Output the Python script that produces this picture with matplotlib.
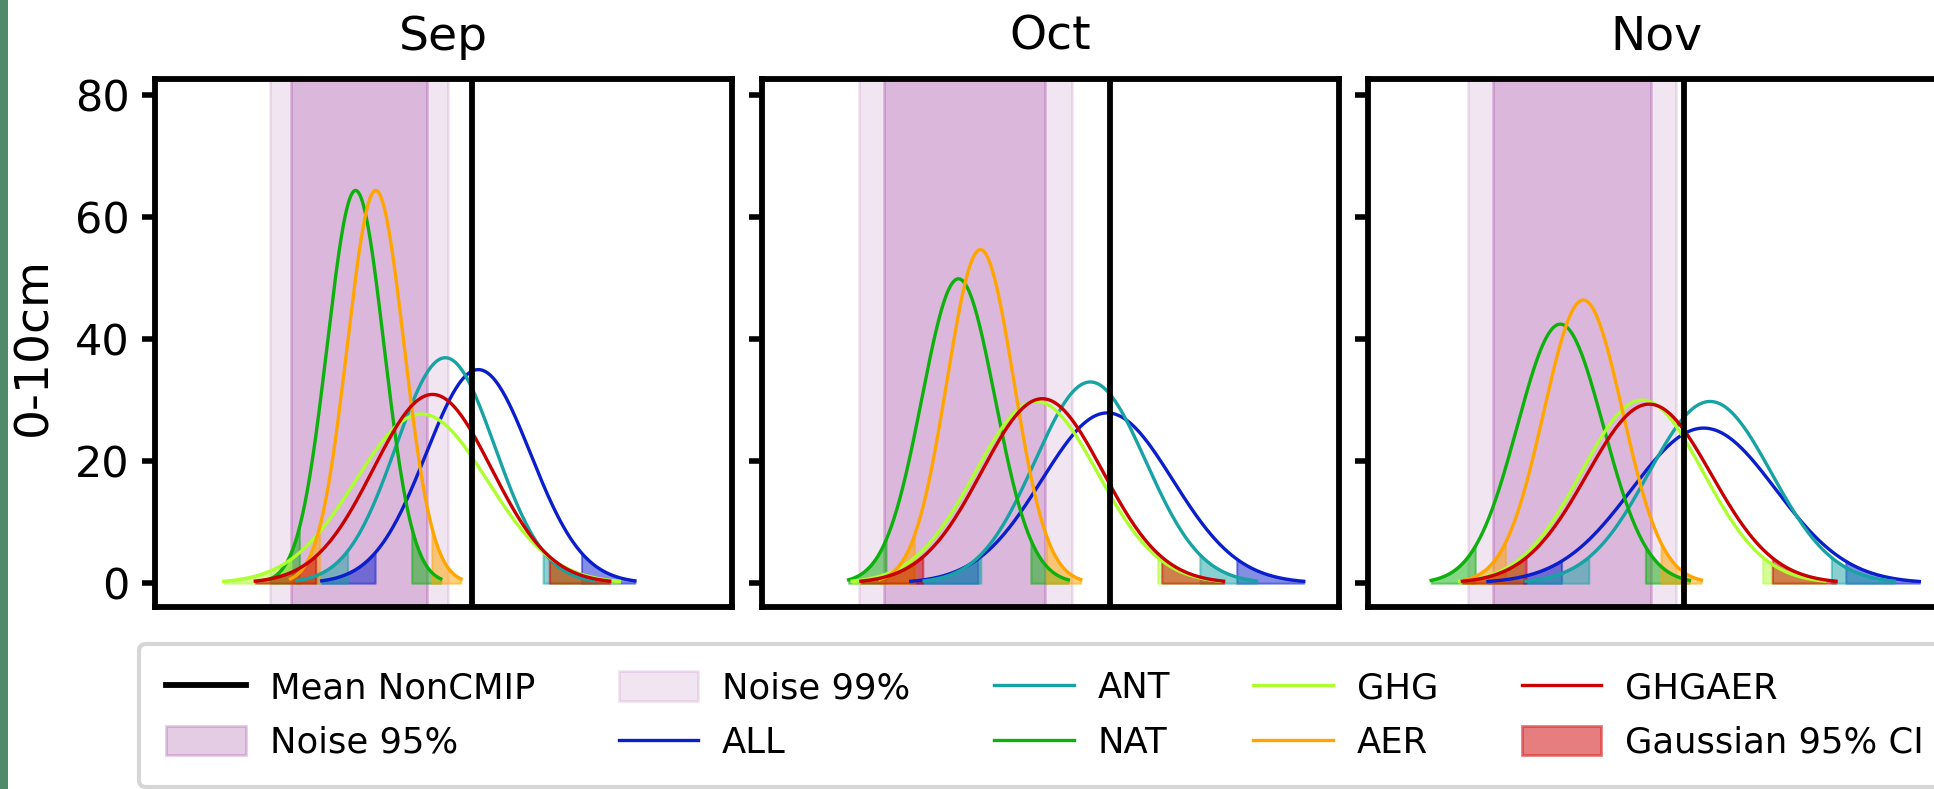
import numpy as np
import matplotlib
matplotlib.use('Agg')
import matplotlib.pyplot as plt
from matplotlib.lines import Line2D
from matplotlib.patches import Patch, Rectangle

# %%
months = ['Sep', 'Oct', 'Nov']

mean_noncmip = [-0.0007, 0.0059, -0.0010]
noise95_lo = [-0.0404, -0.0434, -0.0428]
noise95_hi = [-0.0107, -0.0081, -0.0082]
noise99_lo = [-0.0449, -0.0489, -0.0482]
noise99_hi = [-0.0061, -0.0022, -0.0028]

# gaussian fits (mean, std) per experiment and month
ALL_mu = [0.0006, 0.0054, 0.0033]
ALL_sd = [0.0114, 0.0143, 0.0157]
ANT_mu = [-0.0066, 0.0017, 0.0047]
ANT_sd = [0.0108, 0.0121, 0.0134]
NAT_mu = [-0.0262, -0.0271, -0.0280]
NAT_sd = [0.0062, 0.0080, 0.0094]
GHG_mu = [-0.0118, -0.0101, -0.0101]
GHG_sd = [0.0144, 0.0134, 0.0133]
AER_mu = [-0.0218, -0.0223, -0.0230]
AER_sd = [0.0062, 0.0073, 0.0086]
GHGAER_mu = [-0.0094, -0.0088, -0.0086]
GHGAER_sd = [0.0129, 0.0132, 0.0136]

experiments = ['ALL', 'ANT', 'NAT', 'GHG', 'AER', 'GHGAER']
exp_mu = [ALL_mu, ANT_mu, NAT_mu, GHG_mu, AER_mu, GHGAER_mu]
exp_sd = [ALL_sd, ANT_sd, NAT_sd, GHG_sd, AER_sd, GHGAER_sd]
colors = ['#0a1ecc', '#17a3a3', '#0db00d', '#adff2f', '#ffa500', '#c80000']

yticks = [0, 20, 40, 60, 80]

# %%
plt.rcParams['font.family'] = 'DejaVu Sans'

W, H = 1934, 789
fig = plt.figure(figsize=(W / 100, H / 100), dpi=100)
fig.patches.append(Rectangle((0, 0), 8 / W, 1, transform=fig.transFigure,
                             facecolor='#4f8b69', edgecolor='none'))

lefts = [155, 762, 1368]
ax_w = 577
ax_top, ax_bot = 79, 607

for i, m in enumerate(months):
    ax = fig.add_axes([lefts[i] / W, 1 - ax_bot / H, ax_w / W, (ax_bot - ax_top) / H])
    ax.axvspan(noise99_lo[i], noise99_hi[i], facecolor='purple', edgecolor='purple',
               alpha=0.1, lw=2, zorder=1)
    ax.axvspan(noise95_lo[i], noise95_hi[i], facecolor='purple', edgecolor='purple',
               alpha=0.2, lw=2, zorder=1)
    for e, mu, sd, c in zip(experiments, exp_mu, exp_sd, colors):
        x = np.linspace(mu[i] - 3 * sd[i], mu[i] + 3 * sd[i], 300)
        y = np.exp(-0.5 * ((x - mu[i]) / sd[i]) ** 2) / (sd[i] * np.sqrt(2 * np.pi))
        ax.plot(x, y, color=c, lw=2.4, zorder=3)
        lo = x <= mu[i] - 1.96 * sd[i]
        hi = x >= mu[i] + 1.96 * sd[i]
        ax.fill_between(x[lo], 0, y[lo], color=c, alpha=0.5, lw=1.5, zorder=2)
        ax.fill_between(x[hi], 0, y[hi], color=c, alpha=0.5, lw=1.5, zorder=2)
    ax.axvline(mean_noncmip[i], color='black', lw=4.2, zorder=4)

    ax.set_xlim(-0.07, 0.056)
    ax.set_ylim(-3.9, 82.6)
    ax.set_xticks([])
    ax.set_yticks(yticks)
    ax.tick_params(axis='y', length=9.6, width=4, pad=8.5, direction='out',
                   labelsize=31)
    for s in ax.spines.values():
        s.set_linewidth(4.2)
    if i > 0:
        ax.tick_params(labelleft=False)
    ax.set_title(m, fontsize=34, pad=21)

fig.text(34 / W, 1 - 347 / H, '0-10cm', rotation=90, ha='center', va='center',
         fontsize=34)

handles = [
    Line2D([], [], color='black', lw=4.2),
    Patch(facecolor='purple', edgecolor='purple', alpha=0.2, lw=2),
    Patch(facecolor='purple', edgecolor='purple', alpha=0.1, lw=2),
]
labels = ['Mean NonCMIP', 'Noise 95%', 'Noise 99%']
for e, c in zip(experiments, colors):
    handles.append(Line2D([], [], color=c, lw=2.4))
    labels.append(e)
handles.append(Patch(facecolor='tab:red', edgecolor='tab:red', alpha=0.6, lw=2))
labels.append('Gaussian 95% CI')

leg = fig.legend(handles, labels, loc='upper left', bbox_to_anchor=(139 / W, 1 - 644 / H),
                 ncol=5, fontsize=25.5, borderaxespad=0, handlelength=2.25,
                 handletextpad=0.67, columnspacing=2.36, labelspacing=0.585,
                 handleheight=0.9, borderpad=0.77)
leg.get_frame().set_linewidth(3)

plt.savefig('out.png', dpi=100)
